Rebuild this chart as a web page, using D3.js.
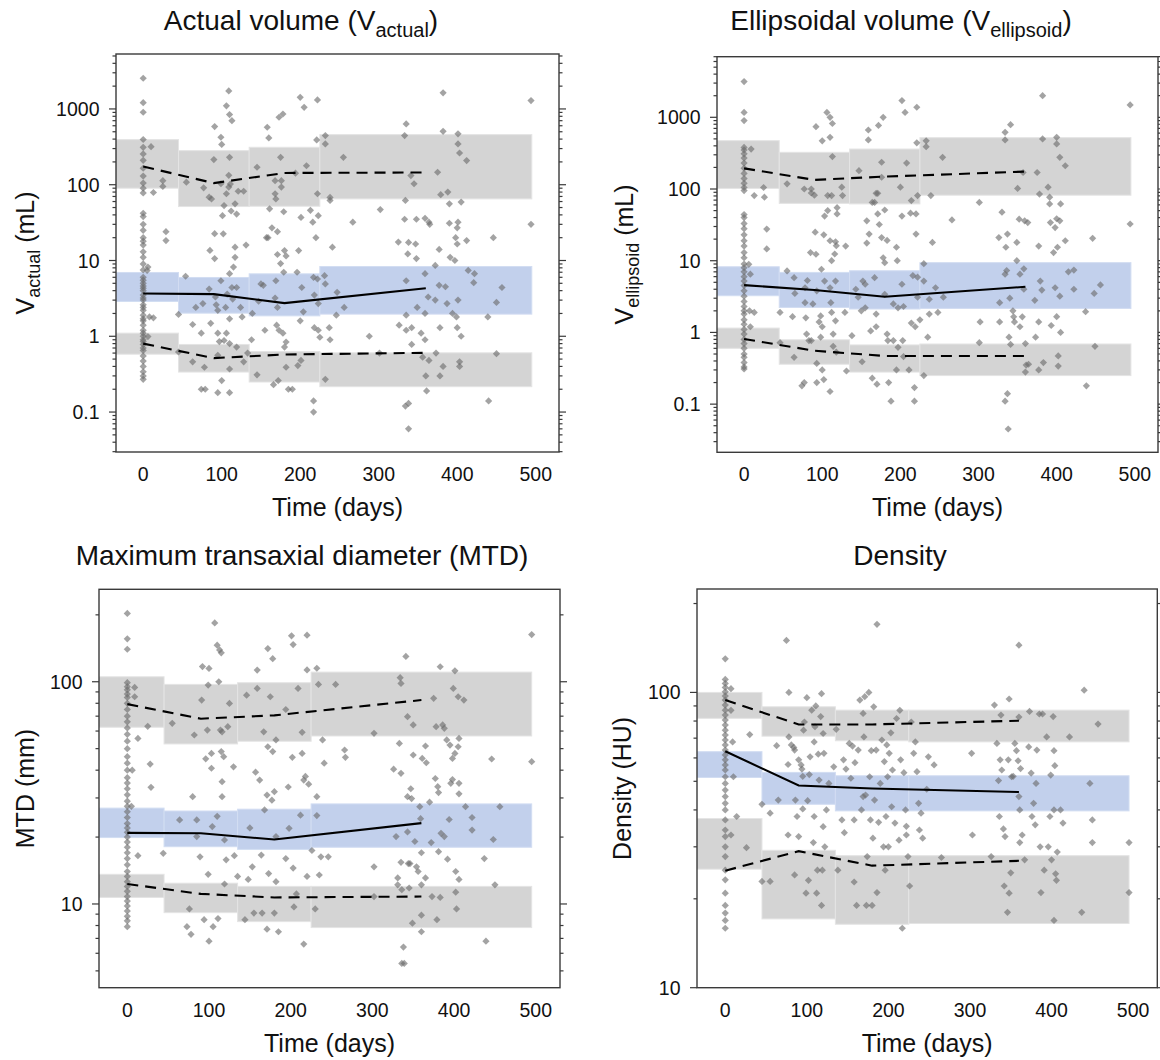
<!DOCTYPE html>
<html>
<head>
<meta charset="utf-8">
<script src="https://cdn.jsdelivr.net/npm/d3@7"></script>
<style>
  body { margin: 0; background: #fff; }
  svg { display: block; font-family: "Liberation Sans", Arial, Helvetica, sans-serif; }
</style>
</head>
<body>
<svg id="chart" width="1160" height="1060"></svg>
<script>
// bins shared by all four panels
var binEdges = [-45, 45, 135, 225, 495];
var binMid = [0, 90, 180, 360];
var xTicks = [0, 100, 200, 300, 400, 500];

// ---- Actual volume (mL)
var vaP95Hi = [394, 282, 312, 458], vaP95Lo = [90, 51.5, 52, 65];
var vaP50Hi = [6.95, 5.97, 6.67, 8.33], vaP50Lo = [2.88, 2.02, 1.86, 1.96];
var vaP5Hi = [1.10, 0.78, 0.63, 0.605], vaP5Lo = [0.58, 0.337, 0.249, 0.216];
var vaObs95 = [174, 105, 143, 145], vaObs50 = [3.67, 3.6, 2.74, 4.31], vaObs5 = [0.80, 0.515, 0.575, 0.605];
var vaDay0 = [2540,1210,905,395,312,255,210,165,130,105,90,78,42,38,30,25,20,18,16,13,11,9,7.5,6,5.5,5,4.6,4.3,4,3.5,3.2,3,2.6,2.4,2.2,1.9,1.7,1.6,1.4,1.2,1.1,1.0,0.9,0.85,0.78,0.7,0.65,0.55,0.47,0.4,0.34,0.3,0.27];
var vaObs = [[10,318],[13,79],[6,8.2],[5,7.4],[8,1.8],[13,1.75],[6,0.99],[25,113],[25,95],[29,24],[29,18.3],[45,1.94],[55,108],[54,6.2],[45,0.62],[63,1.43],[63,0.46],[67,2.4],[74,1.1],[74,0.2],[79,0.2],[77,91],[76,2.7],[78,0.39],[85,13.6],[84,68.5],[87,65],[84,4.2],[86,1.48],[91,585],[90,215],[91,22.6],[91,10.6],[92,3.3],[93,2.6],[95,2.2],[95,1.1],[95,0.56],[95,0.18],[99,103],[97,0.85],[99,5.4],[99,423],[100,340],[102,22.5],[103,53],[101,39],[106,1100],[109,1730],[110,842],[113,700],[110,230],[109,133],[109,93],[106,76],[111,102],[112,45],[117,56],[119,41],[121,82],[117,15],[117,11],[115,8.2],[110,6.7],[113,4.4],[114,3.1],[107,3.6],[105,2.4],[110,1.7],[106,1.1],[103,0.88],[110,0.8],[100,0.26],[110,0.37],[110,0.18],[119,0.72],[124,2.4],[131,16],[128,82],[126,1.8],[119,4.4],[128,0.46],[133,0.6],
  [138,0.9],[145,170],[139,2],[145,0.31],[147,2.9],[150,4.9],[153,4.7],[155,1.2],[157,20],[158,573],[160,415],[159,20],[161,48],[164,27],[166,0.23],[168,3.2],[168,113],[168,76],[169,65],[172,0.26],[171,24],[171,12],[169,5.4],[171,2.4],[170,1.4],[173,777],[178,858],[175,230],[176,113],[176,93],[179,44],[180,13.5],[182,11.5],[175,9.1],[179,7],[173,1.2],[178,1.1],[180,0.72],[182,0.39],[185,0.2],[190,0.2],[182,0.84],
  [194,142],[198,13.5],[196,7],[200,1425],[205,1050],[201,37],[202,4.4],[204,2.1],[200,1.6],[197,0.41],[201,0.48],[208,178],[213,46],[216,32],[217,6],[218,3.5],[218,1.3],[217,0.14],[217,0.1],[220,20],[222,1315],[221,390],[222,76],[223,39],[222,5.7],[223,2.7],[223,1.2],[225,0.97],
  [232,445],[232,345],[231,6.3],[232,4.9],[232,0.27],[238,68],[238,62],[237,1.3],[238,0.9],[241,15],[247,3.8],[246,1.9],[255,230],[256,2.4],[267,32],[288,1.0],[302,47],[301,0.6],
  [325,17.5],[333,35],[334,62],[335,634],[333,445],[338,17.3],[337,12.2],[335,5.4],[335,1.9],[326,1.4],[335,1.2],[334,0.12],[338,0.13],[338,0.06],[341,132],[342,1.3],[342,0.78],[345,103],[347,16.5],[348,10.6],[348,35],[349,2.4],[354,1.1],[359,36],[359,6.7],[356,0.53],[360,0.3],[361,0.19],[364,32],[365,30],[363,3.3],[359,2],[359,0.9],[364,0.48],[372,8.6],[372,3],[373,0.6],[375,146],[377,14],[377,4.7],[378,1.3],[378,0.3],
  [382,1630],[382,507],[379,74],[385,4.5],[382,0.4],[387,2.7],[388,80],[390,56],[390,31],[391,11],[394,2],[397,10],[398,20],[399,1.8],[400,27],[401,470],[401,345],[401,32],[400,16.5],[400,1.3],[401,3],[403,262],[405,59],[405,1],[403,0.46],[403,0.4],[412,208],[412,18.3],[414,7.4],[422,6.7],[421,5.1],[439,1.8],[440,0.14],[446,20],[450,0.59],[450,2.8],[457,4.4],[494,1290],[494,30]];

// ---- Ellipsoidal volume (mL)
var veP95Hi = [472, 325, 361, 520], veP95Lo = [102, 63, 62, 82];
var veP50Hi = [8.24, 6.87, 7.25, 9.4], veP50Lo = [3.25, 2.23, 2.12, 2.16];
var veP5Hi = [1.15, 0.79, 0.67, 0.69], veP5Lo = [0.60, 0.36, 0.28, 0.25];
var veObs95 = [194, 134, 149, 175], veObs50 = [4.57, 3.9, 3.15, 4.33], veObs5 = [0.81, 0.555, 0.47, 0.47];
var veDay0 = [3150,1170,900,380,350,310,270,230,195,165,140,120,105,95,44,40,33,28,23,19,16,13,11,9,8,7,6,5.2,4.5,3.8,3.2,2.7,2.3,2.0,1.8,1.5,1.3,1.1,0.95,0.8,0.7,0.6,0.5,0.45,0.38,0.33,0.31];
var veObs = [[9,361],[13,81],[6,8.9],[8,6.5],[7,2.0],[13,1.9],[8,1.2],[29,27.6],[29,14.6],[25,105],[26,77],[46,1.9],[46,0.72],[55,118],[55,7.2],[64,5.8],[62,1.66],[64,0.45],[65,3.5],[74,0.18],[77,0.2],[77,100],[78,4.2],[78,2.6],[79,1.6],[80,0.95],[81,5.3],[83,0.77],[85,13],[86,100],[86,88],[90,82],[88,2.5],[86,0.77],[92,740],[91,25],[92,12.3],[93,3.8],[96,1.4],[93,0.37],[93,0.2],[99,7.6],[98,1.7],[98,0.86],[100,0.3],[100,470],[102,0.22],[102,23],[103,42],[103,5.2],[100,1.2],[107,50],[106,1170],[110,1000],[113,820],[110,525],[113,283],[107,81],[112,81],[110,19],[112,10],[117,18.4],[116,12.4],[118,16.2],[117,5.2],[110,4.2],[110,0.15],[111,2.6],[112,1.9],[114,0.95],[117,1.45],[114,0.64],[118,0.53],[119,55],[119,45],[125,106],[126,81],[130,16],[129,1.9],[131,0.29],
  [138,0.9],[147,180],[143,4.0],[146,3.1],[150,2.0],[152,5.2],[155,4.7],[151,0.39],[155,2.2],[159,665],[159,483],[157,36],[157,17.6],[160,23.5],[162,1.05],[164,0.23],[164,65],[167,65],[167,5.8],[169,1.8],[169,1.2],[170,0.19],[172,770],[169,87],[171,87],[171,45],[173,32],[176,21],[176,236],[176,146],[178,1000],[180,51],[178,11],[180,9.4],[180,3.4],[183,19.2],[183,0.95],[184,0.77],[185,0.2],[188,0.11],[191,2.5],[191,0.77],[195,0.3],[195,15.4],[196,10],[197,2.2],[197,0.62],
  [200,106],[202,1710],[202,42],[202,4.7],[203,0.77],[204,0.46],[204,2.3],[206,1170],[208,230],[211,0.3],[213,46],[214,69],[214,1.35],[216,6.2],[218,0.11],[218,0.17],[219,1.2],[220,23.5],[220,45],[221,1380],[221,440],[222,81],[222,5.9],[222,3.1],[225,1.5],[230,9.1],[230,5.2],[233,470],[233,390],[230,0.25],[235,0.86],[237,1.8],[237,2.9],[239,81],[241,18],[245,4.2],[248,1.9],[254,277],[255,3.1],[266,37],[301,65],[301,0.72],[302,1.4],
  [326,21],[330,47.6],[334,617],[334,483],[337,23.5],[335,15.4],[336,7.3],[334,6.5],[327,2.6],[327,1.4],[334,0.11],[337,0.14],[338,0.045],[339,0.86],[341,0.68],[340,3.0],[344,2],[345,1.65],[349,18],[350,102],[346,1.4],[349,10],[353,1.2],[352,38],[341,790],[353,6.5],[356,1.65],[357,170],[358,7.7],[358,4.0],[359,36],[360,0.7],[361,0.35],[360,0.28],[363,34],[364,0.36],[373,0.86],[372,2.8],[375,170],[377,16],[378,85],[377,0.3],[379,5.2],[377,1.4],
  [382,2000],[382,500],[381,3.9],[383,0.38],[389,106],[391,77],[391,62],[392,34],[393,1.25],[396,13],[398,29],[398,4.2],[400,425],[400,525],[400,1.66],[400,38.5],[401,15.4],[402,0.47],[402,0.34],[404,36],[404,3.2],[405,1.0],[405,62],[404,277],[411,211],[411,19],[415,7],[422,7.4],[422,4.0],[437,1.95],[438,0.18],[446,20.5],[448,3.5],[449,0.64],[456,4.6],[494,1490],[494,32.5]];

// ---- Maximum transaxial diameter (mm)
var mtdP95Hi = [105.3, 97.3, 99, 110.5], mtdP95Lo = [62.4, 52.5, 54, 57];
var mtdP50Hi = [27, 26.2, 26.7, 28.2], mtdP50Lo = [19.9, 18.1, 17.6, 18.0];
var mtdP5Hi = [13.6, 12.4, 12.0, 12.0], mtdP5Lo = [10.7, 9.14, 8.33, 7.83];
var mtdObs95 = [79.3, 68.2, 70.6, 82.7], mtdObs50 = [20.9, 20.8, 19.5, 23.1], mtdObs5 = [12.3, 11.1, 10.7, 10.8];
var mtdDay0 = [203,156,140,99,95,92,88,85,80,75,70,66,62,58,54,50,46,43,40,37,35,33,31,29,27.5,26,24.5,23,22,21,20,19,18,17,16,15,14,13.3,12.6,12,11.4,10.8,10.3,9.8,9.3,8.8,8.4,7.9];
var mtdObs = [[9,94.3],[9,85.6],[13,55.6],[6,40],[5,27.5],[13,16.5],[25,63],[28,42.6],[29,33.5],[44,16.9],[55,65],[64,23.9],[73,7.9],[76,9.5],[78,7.3],[80,30.4],[82,57.6],[85,23.9],[85,20.1],[89,16.3],[91,82.7],[92,117],[94,8.5],[96,45],[98,60.6],[99,13.6],[100,114.8],[99,96.6],[100,6.8],[103,40.8],[103,47.6],[104,22.3],[105,7.9],[107,184],[110,146],[111,8.6],[110,24.8],[112,100],[113,139],[115,135],[114,60.6],[116,59.5],[115,48.5],[118,46],[116,35.5],[116,30.4],[119,19.4],[119,12.3],[121,15.8],[123,62.8],[130,41.4],[125,79.9],[131,16.5],[135,13.3],
  [144,8.5],[146,87],[148,12.9],[150,22],[153,14.7],[155,9.1],[157,39.2],[159,112.8],[159,93.3],[162,36.1],[164,16.6],[165,9.1],[167,59.5],[168,26.5],[171,7.7],[171,30.9],[172,141],[172,51],[173,13.7],[175,85.6],[177,29.3],[178,127],[178,48.5],[180,32],[182,20.1],[182,12.6],[180,9.1],[182,54.7],[185,7.5],[194,75],[194,16],[197,33.6],[198,21.9],[201,161],[202,45.7],[203,147],[203,14.5],[204,9.7],[207,11.1],[209,93.3],[212,25.1],[214,47.6],[214,59.2],[216,36.1],[216,6.6],[218,37.5],[220,162],[220,113],[222,34.6],[220,13.3],[226,17.4],[230,9.5],[232,115],[232,30.4],[232,25],[234,97.3],[235,13.5],[237,16.3],[239,54.7],[241,43],[246,16.3],[255,97.3],[266,49.3],[267,45.7],[302,58.6],[302,14.7],[302,10.8],
  [326,40.4],[329,20.1],[331,13.1],[331,12.2],[333,52.8],[334,104.3],[335,98.3],[335,38.7],[335,15.4],[336,11.6],[338,6.4],[339,5.4],[336,5.4],[341,130],[343,69.6],[343,30.4],[343,21.1],[344,15.2],[345,11.8],[346,15.2],[347,33],[348,29.8],[349,8.2],[350,63.9],[350,46.8],[352,19.1],[354,14.7],[356,14],[358,27.4],[359,24.2],[360,17.0],[360,12.2],[360,8.9],[360,7.5],[361,45.2],[365,51.4],[366,43.2],[365,13.1],[370,28.7],[372,18.9],[373,10.8],[375,84.2],[377,36.7],[378,62.8],[379,8.5],[380,33.7],[381,31.7],[381,17.2],[383,116.8],[384,20.8],[383,10.7],[386,63.9],[388,61.7],[388,20.1],[391,54.7],[392,15.9],[394,24],[395,51.9],[396,34.9],[398,45.2],[398,36.3],[399,93.3],[401,112],[401,47.6],[402,11.3],[403,9.5],[402,14],[405,85.6],[405,51],[406,55.6],[406,34.9],[406,31.3],[406,12.9],[412,82.7],[414,27.4],[422,24.5],[422,21.5],[437,16.0],[439,6.8],[446,44.9],[448,19.5],[450,12.2],[456,27.4],[495,163],[495,43.7]];

// ---- Density (HU)
var densP95Hi = [100, 89.4, 87.1, 87.1], densP95Lo = [81.7, 71.1, 68.6, 68];
var densP50Hi = [63, 53.6, 52.2, 52.2], densP50Lo = [51.5, 41.8, 39.7, 39.7];
var densP5Hi = [37.4, 29.2, 28, 28], densP5Lo = [25.2, 17.1, 16.4, 16.5];
var densObs95 = [94.2, 77.9, 77.9, 80.2], densObs50 = [63.2, 48.4, 47.3, 46.0], densObs5 = [24.9, 29.0, 25.9, 26.9];
var densDay0 = [130,110.7,107.3,104,100.5,97.2,94.2,90.6,87.1,83.8,80.6,77.5,74.5,71.7,69,66.4,63.8,61.4,59.1,56.8,54.6,51.8,49.2,46.7,44.4,42.1,40,37,34.2,32.5,30,27.8,25,23.2,20.9,19,17.9,16.9,15.9];
var densObs = [[7,103],[7,87],[9,68],[10,51.8],[7,32.9],[14,38],[26,29.8],[30,72],[45,41.8],[45,22.9],[55,39],[55,22.9],[63,66],[65,43.2],[78,100],[75,150],[77,57],[77,32.9],[78,70.7],[81,66.4],[84,65.1],[85,63.8],[85,24.1],[86,43.2],[88,38],[90,59.1],[90,32.5],[93,56.8],[94,55],[95,52],[95,40.3],[96,74.5],[97,79.4],[99,20.9],[100,96],[101,43],[102,23.1],[103,52.7],[104,60.5],[106,87.1],[108,31],[109,38],[109,68],[110,76.5],[111,90],[112,20.9],[113,25],[114,61.8],[115,50.5],[117,82.8],[118,99],[118,19],[119,25],[120,72.6],[120,35.1],[121,62.2],[122,30],[124,40],[127,49.2],[133,56],
  [136,75],[138,25],[143,37],[145,59.1],[146,33.5],[148,55],[152,67.2],[154,51.2],[156,65.8],[158,37],[158,22.8],[159,57.8],[161,19],[163,63.8],[165,94.2],[167,40],[169,84.9],[169,44.4],[170,70.7],[171,96.7],[172,44.9],[173,19],[174,27.8],[176,100],[177,51.8],[178,37],[179,63.5],[180,19],[181,32.1],[182,89.4],[183,43.2],[185,63.8],[186,21],[186,170],[188,36.3],[190,49.2],[192,69],[194,30],[195,58.3],[196,25],[197,38],[198,66.4],[199,51.8],[200,30],[201,62.2],[203,73],[204,41],[205,54.6],[208,36.1],[210,81.6],[213,31.6],[214,87],[215,59.1],[217,15.9],[219,53.5],[221,40],[222,35.2],[222,32.9],[224,27.8],[226,22.1],[228,79.4],[231,62.2],[233,68],[235,53.9],[237,42.1],[238,34.2],[240,39],[242,32.1],[247,47],[249,60.5],[256,56.8],[265,27.6],[303,32.9],[302,62.2],
  [326,27.8],[330,90.6],[333,67.2],[335,50.3],[336,38],[337,59.1],[338,83.8],[339,54.6],[341,34.5],[342,22.1],[343,32.5],[346,18],[347,59.1],[348,95],[350,24.5],[348,20.9],[351,51.8],[353,52],[355,67.2],[357,63.5],[359,58.7],[360,82.5],[360,144.6],[360,44.4],[361,40],[361,31],[362,55.2],[364,32.9],[367,27.1],[372,65.4],[373,86.2],[375,53.3],[376,38],[378,42.1],[380,35.6],[381,49.2],[382,63.8],[385,84.5],[386,30],[387,21],[389,84.5],[391,25],[394,70.7],[396,30],[398,38],[399,52.5],[400,27.1],[402,82.8],[403,63.5],[403,40],[403,16.9],[404,56.5],[405,24.3],[406,23.1],[407,28.8],[411,40],[414,36.1],[422,70.7],[437,18],[440,101.8],[447,49.2],[450,37],[450,31],[457,78.1],[495,31],[495,21]];

var grayFill = "#d4d4d4", blueFill = "#c2d0ec", dotFill = "#6a6a6a";

var svg = d3.select("#chart");

// layout of the four panels (pixel frame + axis domain)
var panels = [
  {id: "va", left: 116, right: 559, top: 54, bottom: 452, yDomain: [0.0297, 5310], yLabels: [0.1, 1, 10, 100, 1000],
   titleX: 301, titleY: 30, title: ["Actual volume (V", "actual", ")"], ylabX: 34, ylab: ["V", "actual", " (mL)"],
   p95Hi: vaP95Hi, p95Lo: vaP95Lo, p50Hi: vaP50Hi, p50Lo: vaP50Lo, p5Hi: vaP5Hi, p5Lo: vaP5Lo,
   o95: vaObs95, o50: vaObs50, o5: vaObs5, day0: vaDay0, obs: vaObs},
  {id: "ve", left: 717, right: 1158, top: 56.7, bottom: 452.3, yDomain: [0.0213, 7000], yLabels: [0.1, 1, 10, 100, 1000],
   titleX: 901, titleY: 30, title: ["Ellipsoidal volume (V", "ellipsoid", ")"], ylabX: 633, ylab: ["V", "ellipsoid", " (mL)"],
   p95Hi: veP95Hi, p95Lo: veP95Lo, p50Hi: veP50Hi, p50Lo: veP50Lo, p5Hi: veP5Hi, p5Lo: veP5Lo,
   o95: veObs95, o50: veObs50, o5: veObs5, day0: veDay0, obs: veObs},
  {id: "mtd", left: 99, right: 560, top: 589.3, bottom: 987.7, yDomain: [4.2, 260.6], yLabels: [10, 100],
   titleX: 302, titleY: 565, title: ["Maximum transaxial diameter (MTD)"], ylabX: 34, ylab: ["MTD (mm)"],
   p95Hi: mtdP95Hi, p95Lo: mtdP95Lo, p50Hi: mtdP50Hi, p50Lo: mtdP50Lo, p5Hi: mtdP5Hi, p5Lo: mtdP5Lo,
   o95: mtdObs95, o50: mtdObs50, o5: mtdObs5, day0: mtdDay0, obs: mtdObs},
  {id: "dens", left: 697, right: 1157.3, top: 589, bottom: 987.7, yDomain: [10, 224], yLabels: [10, 100],
   titleX: 900, titleY: 565, title: ["Density"], ylabX: 631, ylab: ["Density (HU)"],
   p95Hi: densP95Hi, p95Lo: densP95Lo, p50Hi: densP50Hi, p50Lo: densP50Lo, p5Hi: densP5Hi, p5Lo: densP5Lo,
   o95: densObs95, o50: densObs50, o5: densObs5, day0: densDay0, obs: densObs}
];

function fmt(v) { return v < 1 ? String(v) : d3.format("d")(v); }

function drawPanel(p) {
  var x = d3.scaleLinear().domain([-34.65, 529.65]).range([p.left, p.right]);
  var y = d3.scaleLog().domain(p.yDomain).range([p.bottom, p.top]);
  var g = svg.append("g").attr("class", "panel-" + p.id);

  g.append("clipPath").attr("id", "clip-" + p.id)
    .append("rect").attr("x", p.left).attr("y", p.top)
    .attr("width", p.right - p.left).attr("height", p.bottom - p.top);

  var plot = g.append("g").attr("clip-path", "url(#clip-" + p.id + ")");

  // prediction interval boxes
  var bands = [
    {hi: p.p95Hi, lo: p.p95Lo, fill: grayFill, stroke: "#e4e4e4"},
    {hi: p.p50Hi, lo: p.p50Lo, fill: blueFill, stroke: "#d2ddf2"},
    {hi: p.p5Hi, lo: p.p5Lo, fill: grayFill, stroke: "#e4e4e4"}
  ];
  bands.forEach(function(b) {
    plot.append("g").selectAll("rect")
      .data(d3.range(4))
      .join("rect")
        .attr("x", function(i) { return x(binEdges[i]); })
        .attr("width", function(i) { return x(binEdges[i + 1]) - x(binEdges[i]); })
        .attr("y", function(i) { return y(b.hi[i]); })
        .attr("height", function(i) { return y(b.lo[i]) - y(b.hi[i]); })
        .attr("fill", b.fill)
        .attr("stroke", b.stroke)
        .attr("stroke-width", 1);
  });

  // observations (diamonds)
  var pts = p.day0.map(function(v) { return [0, v]; }).concat(p.obs);
  var r = 3.6;
  plot.append("g").selectAll("path")
    .data(pts)
    .join("path")
      .attr("d", "M0," + (-r) + "L" + r + ",0L0," + r + "L" + (-r) + ",0Z")
      .attr("transform", function(d) { return "translate(" + x(d[0]) + "," + y(d[1]) + ")"; })
      .attr("fill", dotFill)
      .attr("fill-opacity", 0.62);

  // observed percentile lines
  var line = d3.line().x(function(d, i) { return x(binMid[i]); }).y(function(d) { return y(d); });
  [[p.o95, "11,7"], [p.o50, null], [p.o5, "11,7"]].forEach(function(l) {
    plot.append("path")
      .attr("d", line(l[0]))
      .attr("fill", "none")
      .attr("stroke", "#000")
      .attr("stroke-width", 2.1)
      .attr("stroke-dasharray", l[1]);
  });

  // frame
  g.append("rect")
    .attr("x", p.left).attr("y", p.top)
    .attr("width", p.right - p.left).attr("height", p.bottom - p.top)
    .attr("fill", "none").attr("stroke", "#3a3a3a").attr("stroke-width", 1.4);

  // y ticks left and right (major at decades, minor at 2..9)
  var ticks = y.ticks().filter(function(t) { return t >= p.yDomain[0] && t <= p.yDomain[1]; });
  function isMajor(t) { return Math.abs(Math.log10(t) - Math.round(Math.log10(t))) < 1e-9; }
  g.append("g").selectAll("line")
    .data(ticks)
    .join("line")
      .attr("x1", p.left).attr("x2", function(t) { return p.left - (isMajor(t) ? 7 : 3.5); })
      .attr("y1", function(t) { return y(t); }).attr("y2", function(t) { return y(t); })
      .attr("stroke", "#3a3a3a").attr("stroke-width", 1.2);
  g.append("g").selectAll("line")
    .data(ticks)
    .join("line")
      .attr("x1", p.right).attr("x2", function(t) { return p.right + (isMajor(t) ? 7 : 3.5); })
      .attr("y1", function(t) { return y(t); }).attr("y2", function(t) { return y(t); })
      .attr("stroke", "#3a3a3a").attr("stroke-width", 1.2);

  g.append("g").selectAll("text")
    .data(p.yLabels)
    .join("text")
      .attr("x", p.left - 16.5)
      .attr("y", function(t) { return y(t); })
      .attr("dy", "0.36em")
      .attr("text-anchor", "end")
      .style("font-size", "19.5px")
      .attr("fill", "#111")
      .text(fmt);

  // x tick labels (no tick marks)
  g.append("g").selectAll("text")
    .data(xTicks)
    .join("text")
      .attr("x", function(t) { return x(t); })
      .attr("y", p.bottom + 29)
      .attr("text-anchor", "middle")
      .style("font-size", "19.5px")
      .attr("fill", "#111")
      .text(function(t) { return t; });

  // x axis title
  g.append("text")
    .attr("x", (p.left + p.right) / 2)
    .attr("y", p.bottom + 64)
    .attr("text-anchor", "middle")
    .style("font-size", "25px")
    .attr("fill", "#111")
    .text("Time (days)");

  // y axis title (rotated, optional subscript)
  var yl = g.append("text")
    .attr("transform", "translate(" + p.ylabX + "," + ((p.top + p.bottom) / 2) + ") rotate(-90)")
    .attr("text-anchor", "middle")
    .style("font-size", "25px")
    .attr("fill", "#111");
  yl.append("tspan").text(p.ylab[0]);
  if (p.ylab.length > 1) {
    yl.append("tspan").attr("dy", 6).style("font-size", "18px").text(p.ylab[1]);
    yl.append("tspan").attr("dy", -6).text(p.ylab[2]);
  }

  // panel title
  var tt = g.append("text")
    .attr("x", p.titleX).attr("y", p.titleY)
    .attr("text-anchor", "middle")
    .style("font-size", "28px")
    .attr("fill", "#111");
  tt.append("tspan").text(p.title[0]);
  if (p.title.length > 1) {
    tt.append("tspan").attr("dy", 7).style("font-size", "20px").text(p.title[1]);
    tt.append("tspan").attr("dy", -7).text(p.title[2]);
  }
}

panels.forEach(drawPanel);
</script>
</body>
</html>
